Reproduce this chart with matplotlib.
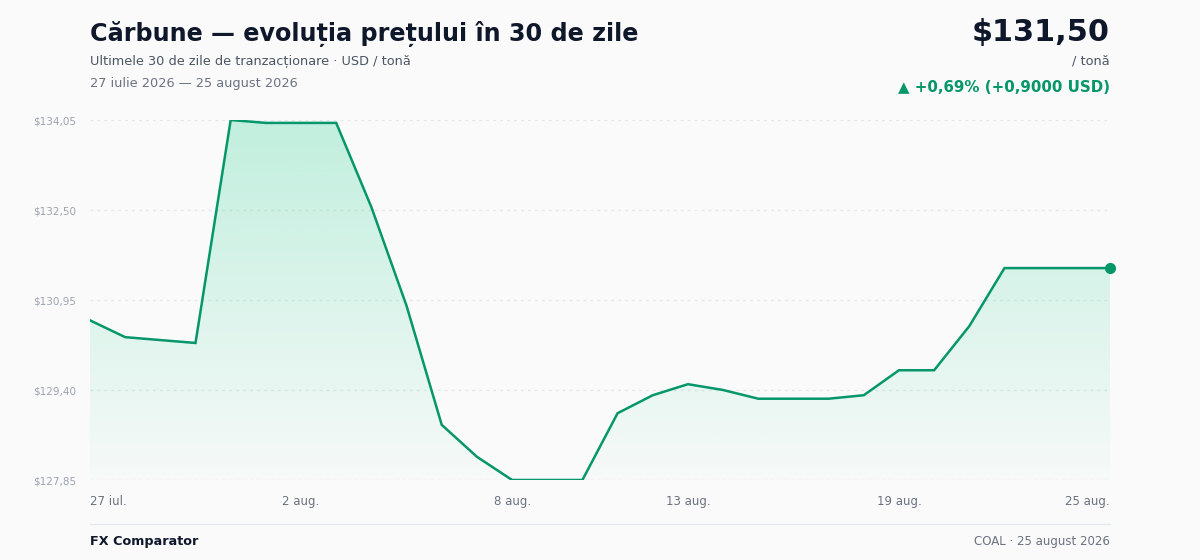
import matplotlib
matplotlib.use("Agg")
import matplotlib.pyplot as plt
import numpy as np
from matplotlib.colors import to_rgba

plt.rcParams['font.family'] = ['DejaVu Sans']

# ---- data ----
days = list(range(30))  # 27 Jul .. 25 Aug 2026
prices = [130.60, 130.31, 130.26, 130.21, 134.05, 134.00, 134.00, 134.00,
          132.55, 130.85, 128.80, 128.25, 127.85, 127.85, 127.85, 129.00,
          129.31, 129.50, 129.40, 129.25, 129.25, 129.25, 129.31, 129.74,
          129.74, 130.50, 131.50, 131.50, 131.50, 131.50]
xtick_pos = [0, 6, 12, 17, 23, 29]
xtick_labels = ["27 iul.", "2 aug.", "8 aug.", "13 aug.", "19 aug.", "25 aug."]
ytick_vals = [127.85, 129.40, 130.95, 132.50, 134.05]
ytick_labels = ["$127,85", "$129,40", "$130,95", "$132,50", "$134,05"]

GREEN = "#059669"
BG = "#fafafa"
W, H = 1200, 560

fig = plt.figure(figsize=(12, 5.6), dpi=100)
fig.patch.set_facecolor(BG)

def fx(px): return px / W
def fy(py): return 1 - py / H

ax = fig.add_axes([fx(90), fy(480), fx(1110) - fx(90), (480 - 120) / H])
ax.set_facecolor(BG)
ymin, ymax = 127.85, 134.05
ax.set_xlim(0, 29)
ax.set_ylim(ymin, ymax)

# gradient fill
ngrad = 256
grad = np.zeros((ngrad, 1, 4))
base = to_rgba("#34d399")
for i in range(ngrad):
    t = i / (ngrad - 1)  # 0 bottom, 1 top
    grad[i, 0, :3] = base[:3]
    grad[i, 0, 3] = 0.02 + 0.27 * t
im = ax.imshow(grad, extent=[0, 29, ymin, ymax], origin='lower', aspect='auto', zorder=1)
poly = ax.fill_between(days, prices, ymin, facecolor='none', edgecolor='none')
path = poly.get_paths()[0]
im.set_clip_path(path, transform=ax.transData)

# grid
for v in ytick_vals:
    ax.axhline(v, color="#e5e7eb", lw=1, ls=(0, (2, 3)), zorder=0)

ax.plot(days, prices, color=GREEN, lw=1.8, zorder=3, solid_joinstyle='miter')
ax.plot([days[-1]], [prices[-1]], 'o', color=GREEN, ms=7, zorder=4, clip_on=False)

for s in ax.spines.values():
    s.set_visible(False)
ax.set_yticks(ytick_vals)
ax.set_yticklabels(ytick_labels, fontsize=7.5, color="#9ca3af")
ax.tick_params(axis='y', length=0, pad=10)
ax.set_xticks([])
for p, lab in zip(xtick_pos, xtick_labels):
    ha = 'left' if p == 0 else ('right' if p == 29 else 'center')
    ax.text(p, -0.06, lab, transform=ax.get_xaxis_transform(), ha=ha, va='center',
            fontsize=8.5, color="#6b7280")

# header text
fig.text(fx(90), fy(34), "Cărbune — evoluția prețului în 30 de zile", fontsize=17.2,
         fontweight='bold', color="#0f172a", va='center', ha='left')
fig.text(fx(90), fy(61), "Ultimele 30 de zile de tranzacționare · USD / tonă", fontsize=9.3,
         color="#4b5563", va='center', ha='left')
fig.text(fx(90), fy(83), "27 iulie 2026 — 25 august 2026", fontsize=9.3,
         color="#6b7280", va='center', ha='left')
fig.text(fx(1110), fy(32), "$131,50", fontsize=21.8, fontweight='bold', color="#0f172a",
         va='center', ha='right')
fig.text(fx(1110), fy(61), "/ tonă", fontsize=9.3, color="#4b5563", va='center', ha='right')
fig.text(fx(1110), fy(87), "▲ +0,69% (+0,9000 USD)", fontsize=10.8, fontweight='bold',
         color=GREEN, va='center', ha='right')

# footer
fig.add_artist(plt.Line2D([fx(90), fx(1110)], [fy(524), fy(524)], color="#e5e7eb", lw=1))
fig.text(fx(90), fy(541), "FX Comparator", fontsize=9.2, fontweight='bold', color="#0f172a",
         va='center', ha='left')
fig.text(fx(1110), fy(541), "COAL · 25 august 2026", fontsize=8.5, color="#6b7280",
         va='center', ha='right')

fig.savefig("out.png", dpi=100, facecolor=BG)
